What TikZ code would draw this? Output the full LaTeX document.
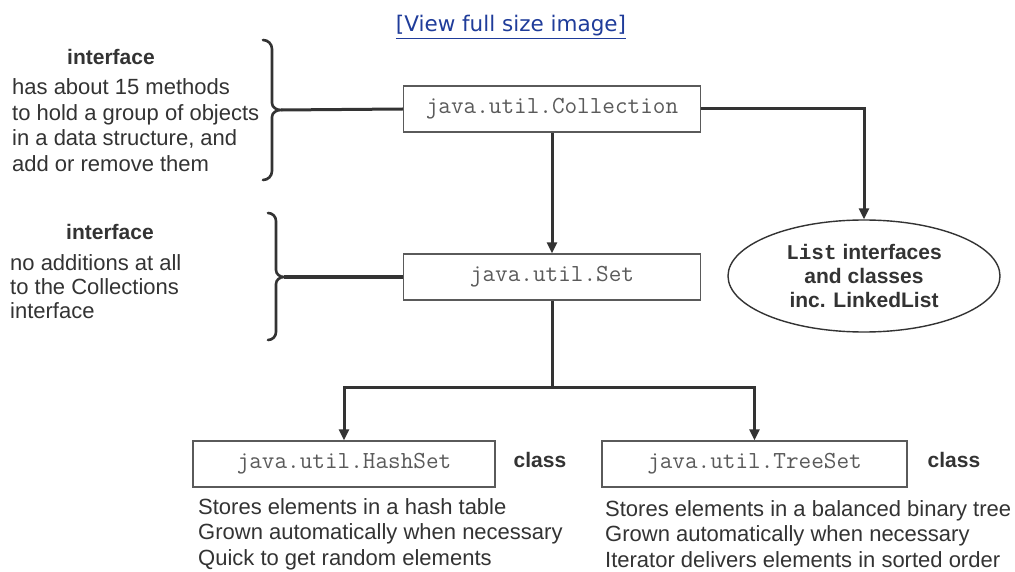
\documentclass[tikz,border=0pt]{standalone}
\usepackage{fontspec}
\setmainfont{Liberation Sans}
\newfontfamily\monofam{Liberation Mono}
\newfontfamily\linkfam{DejaVu Sans}
\usetikzlibrary{arrows.meta,shapes.geometric}
\definecolor{ink}{HTML}{333333}
\definecolor{boxline}{HTML}{5A5A5A}
\definecolor{monotext}{HTML}{5A5A5A}
\definecolor{linkblue}{HTML}{1F3C9A}
\begin{document}
\begin{tikzpicture}[x=1pt,y=-1pt,
  classbox/.style={draw=boxline,line width=1.4pt,minimum height=46pt,inner sep=0pt,font=\ttfamily\fontsize{24.5}{26}\selectfont,text=monotext},
  conn/.style={draw=ink,line width=3pt},
  arr/.style={conn,-{Triangle[length=11pt,width=10pt]}},
  body/.style={font=\fontsize{22}{25.5}\selectfont,text=ink,align=left,inner sep=0pt},
  head/.style={font=\bfseries\fontsize{21}{25}\selectfont,text=ink,inner sep=0pt},
  bracepath/.style={draw=ink,line width=2.6pt,line cap=round}
]
\useasboundingbox[fill=white] (0,0) rectangle (1015,572);

% link
\node[font=\linkfam\fontsize{21.5}{24}\selectfont,text=linkblue,inner sep=0pt] (link) at (511,27) {\underline{[View full size image]}};

% boxes
\node[classbox,minimum width=297pt] (coll) at (552,109) {java.util.Collection};
\node[classbox,minimum width=297pt] (set) at (552,277) {java.util.Set};
\node[ellipse,draw=ink,line width=1.4pt,minimum width=272pt,minimum height=112pt,inner sep=0pt,align=center,text=ink,
      font=\bfseries\fontsize{21}{24}\selectfont] (list) at (864,276)
      {{\monofam\bfseries List} interfaces\\and classes\\inc. LinkedList};
\node[classbox,minimum width=302pt] (hash) at (344,464) {java.util.HashSet};
\node[classbox,minimum width=305pt] (tree) at (754.5,464) {java.util.TreeSet};

% labels
\node[head] (h1) at (111,57) {interface};
\node[body,anchor=west] (d1) at (12,125) {has about 15 methods\\to hold a group of objects\\in a data structure, and\\add or remove them};
\node[head] (h2) at (110,232) {interface};
\node[body,anchor=west,font=\fontsize{22}{24}\selectfont] (d2) at (10,287) {no additions at all\\to the Collections\\interface};
\node[head] (c1) at (540,460) {class};
\node[head] (c2) at (954,460) {class};
\node[body,anchor=west] (d3) at (198,534) {Stores elements in a hash table\\Grown automatically when necessary\\Quick to get random elements};
\node[body,anchor=west] (d4) at (605,534) {Stores elements in a balanced binary tree\\Grown automatically when necessary\\Iterator delivers elements in sorted order};

% braces
\draw[bracepath] (263,40) to[out=0,in=90] (272,49) -- (272,103)
  to[out=-90,in=180] (281,110) to[out=180,in=90] (272,117) -- (272,171) to[out=-90,in=0] (263,180);
\coordinate (b1) at (281,110);
\draw[bracepath] (268,213) to[out=0,in=90] (276,221) -- (276,270)
  to[out=-90,in=180] (284,277) to[out=180,in=90] (276,284) -- (276,332) to[out=-90,in=0] (268,340);
\coordinate (b2) at (284,277);

% connectors
\draw[conn] (b1) -- (coll.west);
\draw[conn] (b2) -- (set.west);
\draw[arr] (coll.south) -- (set.north);
\draw[arr] (coll.east) -| (list.north);
\coordinate (split) at (552,387);
\draw[conn] (set.south) -- (split);
\draw[arr] (split) -| (hash.north);
\draw[arr] (split) -| (tree.north);
\end{tikzpicture}
\end{document}
